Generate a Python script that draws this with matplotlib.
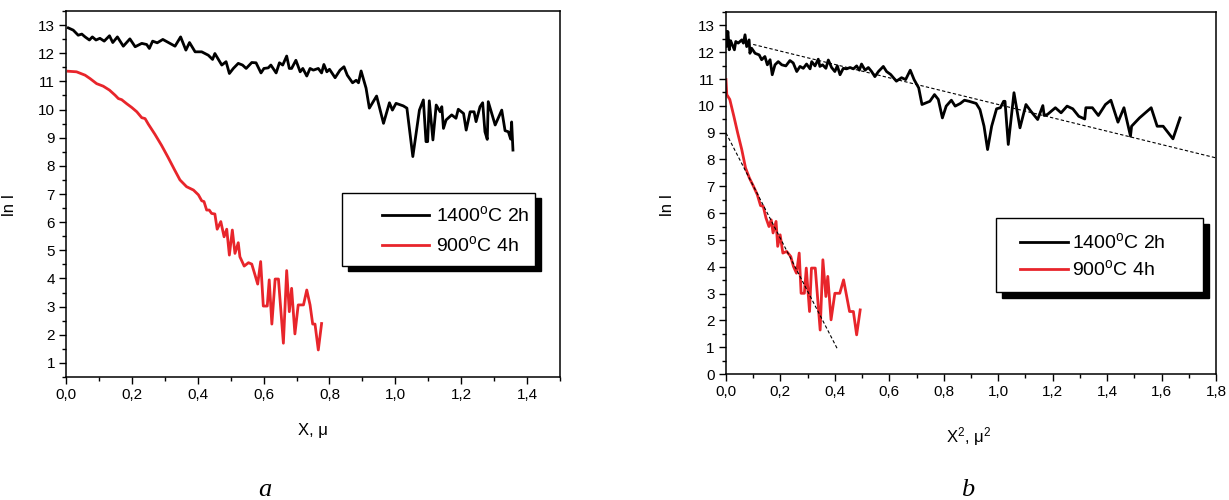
import numpy as np
import matplotlib.pyplot as plt
from matplotlib import font_manager
from matplotlib.lines import Line2D
from matplotlib.patches import Rectangle
from matplotlib.ticker import MultipleLocator, FuncFormatter


# depth profiles, ln I vs X (panel a)
xa_1400 = [0.007, 0.022, 0.037, 0.048, 0.058, 0.071, 0.080, 0.091, 0.103, 0.116,
           0.132, 0.142, 0.156, 0.174, 0.194, 0.210, 0.230, 0.245, 0.253, 0.263,
           0.277, 0.294, 0.311, 0.331, 0.348, 0.364, 0.375, 0.392, 0.412, 0.432,
           0.445, 0.452, 0.473, 0.486, 0.496, 0.508, 0.523, 0.536, 0.547, 0.564,
           0.577, 0.592, 0.601, 0.614, 0.622, 0.638, 0.648, 0.658, 0.670, 0.678,
           0.685, 0.698, 0.711, 0.719, 0.731, 0.741, 0.751, 0.766, 0.776, 0.783,
           0.792, 0.800, 0.817, 0.832, 0.844, 0.854, 0.870, 0.881, 0.888, 0.896,
           0.911, 0.921, 0.943, 0.964, 0.982, 0.991, 1.002, 1.024, 1.035, 1.053,
           1.073, 1.085, 1.093, 1.098, 1.103, 1.114, 1.124, 1.136, 1.141, 1.146,
           1.154, 1.171, 1.184, 1.191, 1.207, 1.215, 1.227, 1.239, 1.245, 1.257,
           1.265, 1.272, 1.279, 1.282, 1.303, 1.323, 1.333, 1.343, 1.350, 1.353,
           1.357]
ya_1400 = [12.90, 12.82, 12.64, 12.68, 12.58, 12.47, 12.58, 12.47, 12.53, 12.43,
           12.62, 12.38, 12.58, 12.25, 12.51, 12.23, 12.35, 12.31, 12.17, 12.43,
           12.37, 12.49, 12.38, 12.25, 12.58, 12.11, 12.38, 12.05, 12.05, 11.93,
           11.78, 11.99, 11.58, 11.70, 11.28, 11.46, 11.64, 11.58, 11.46, 11.67,
           11.66, 11.30, 11.46, 11.48, 11.58, 11.30, 11.66, 11.58, 11.90, 11.46,
           11.46, 11.75, 11.34, 11.46, 11.19, 11.46, 11.40, 11.46, 11.30, 11.60,
           11.34, 11.43, 11.13, 11.40, 11.52, 11.22, 10.95, 11.04, 10.95, 11.37,
           10.76, 10.05, 10.48, 9.51, 10.24, 9.98, 10.22, 10.13, 10.05, 8.33,
           9.98, 10.34, 8.86, 8.86, 10.31, 8.92, 10.16, 9.92, 10.10, 9.33,
           9.63, 9.81, 9.69, 10.01, 9.86, 9.27, 9.92, 9.92, 9.57, 10.10,
           10.24, 9.21, 8.94, 10.28, 9.45, 9.98, 9.25, 9.21, 8.95, 9.56,
           8.56]

xa_900 = [0.007, 0.032, 0.058, 0.073, 0.093, 0.113, 0.132, 0.149, 0.159, 0.169,
          0.184, 0.200, 0.215, 0.230, 0.240, 0.250, 0.270, 0.290, 0.310, 0.330,
          0.346, 0.366, 0.387, 0.402, 0.412, 0.419, 0.427, 0.435, 0.442, 0.452,
          0.459, 0.470, 0.480, 0.488, 0.496, 0.505, 0.513, 0.523, 0.528, 0.541,
          0.554, 0.564, 0.574, 0.582, 0.591, 0.599, 0.611, 0.617, 0.625, 0.635,
          0.645, 0.660, 0.670, 0.678, 0.685, 0.695, 0.705, 0.721, 0.731, 0.741,
          0.749, 0.756, 0.766, 0.776]
ya_900 = [11.36, 11.34, 11.22, 11.10, 10.92, 10.83, 10.69, 10.51, 10.39, 10.35,
          10.21, 10.07, 9.92, 9.71, 9.68, 9.48, 9.12, 8.73, 8.30, 7.85,
          7.50, 7.26, 7.14, 6.97, 6.76, 6.73, 6.43, 6.43, 6.31, 6.29,
          5.75, 6.02, 5.48, 5.75, 4.83, 5.72, 4.89, 5.27, 4.77, 4.44,
          4.56, 4.51, 4.12, 3.80, 4.60, 3.02, 3.02, 3.95, 2.38, 3.98,
          3.98, 1.70, 4.28, 2.82, 3.65, 2.03, 3.06, 3.06, 3.59, 3.06,
          2.38, 2.38, 1.46, 2.40]

# ln I vs X^2 (panel b)
xb_1400 = [0.000, 0.002, 0.007, 0.012, 0.017, 0.023, 0.031, 0.036, 0.045, 0.058,
           0.064, 0.070, 0.076, 0.085, 0.088, 0.094, 0.107, 0.122, 0.131, 0.143,
           0.152, 0.162, 0.170, 0.180, 0.192, 0.205, 0.220, 0.235, 0.247, 0.260,
           0.272, 0.284, 0.296, 0.309, 0.315, 0.327, 0.339, 0.345, 0.355, 0.367,
           0.376, 0.388, 0.400, 0.409, 0.419, 0.431, 0.443, 0.456, 0.468, 0.480,
           0.490, 0.498, 0.511, 0.523, 0.535, 0.547, 0.560, 0.578, 0.590, 0.605,
           0.626, 0.645, 0.660, 0.677, 0.691, 0.708, 0.720, 0.749, 0.766, 0.780,
           0.795, 0.809, 0.828, 0.842, 0.861, 0.876, 0.893, 0.919, 0.933, 0.948,
           0.961, 0.976, 0.994, 1.008, 1.020, 1.025, 1.037, 1.058, 1.080, 1.102,
           1.120, 1.145, 1.164, 1.169, 1.181, 1.210, 1.231, 1.253, 1.274, 1.296,
           1.318, 1.322, 1.346, 1.368, 1.394, 1.414, 1.440, 1.462, 1.486, 1.490,
           1.519, 1.562, 1.584, 1.606, 1.642, 1.668]
yb_1400 = [12.77, 12.21, 12.77, 12.09, 12.43, 12.28, 12.09, 12.40, 12.34, 12.46,
           12.34, 12.65, 12.21, 12.46, 11.96, 12.15, 11.96, 11.90, 11.72, 11.84,
           11.53, 11.72, 11.16, 11.53, 11.65, 11.53, 11.49, 11.69, 11.60, 11.28,
           11.47, 11.40, 11.56, 11.38, 11.65, 11.49, 11.74, 11.47, 11.53, 11.40,
           11.71, 11.43, 11.28, 11.49, 11.16, 11.40, 11.38, 11.43, 11.38, 11.49,
           11.33, 11.56, 11.33, 11.43, 11.28, 11.09, 11.28, 11.47, 11.28, 11.17,
           10.92, 11.05, 10.98, 11.33, 10.98, 10.67, 10.05, 10.17, 10.42, 10.24,
           9.55, 9.99, 10.21, 9.99, 10.09, 10.21, 10.17, 10.09, 9.86, 9.24,
           8.37, 9.24, 9.89, 9.93, 10.17, 10.17, 8.56, 10.49, 9.18, 10.05,
           9.80, 9.49, 10.01, 9.64, 9.68, 9.93, 9.74, 9.99, 9.89, 9.61,
           9.51, 9.93, 9.93, 9.64, 10.05, 10.21, 9.39, 9.93, 8.87, 9.24,
           9.55, 9.93, 9.24, 9.24, 8.77, 9.55]

xb_900 = [0.000, 0.003, 0.014, 0.029, 0.043, 0.058, 0.072, 0.086, 0.101, 0.115,
          0.127, 0.137, 0.147, 0.158, 0.166, 0.173, 0.184, 0.190, 0.199, 0.209,
          0.223, 0.238, 0.248, 0.259, 0.269, 0.276, 0.288, 0.295, 0.307, 0.314,
          0.328, 0.346, 0.356, 0.367, 0.374, 0.386, 0.400, 0.418, 0.432, 0.454,
          0.468, 0.480, 0.493]
yb_900 = [10.98, 10.42, 10.24, 9.61, 8.99, 8.37, 7.68, 7.31, 7.00, 6.69,
          6.28, 6.25, 5.82, 5.50, 5.75, 5.26, 5.69, 4.76, 5.19, 4.51,
          4.57, 4.38, 4.01, 3.76, 4.51, 3.01, 3.01, 3.95, 2.33, 3.95,
          3.95, 1.64, 4.26, 2.89, 3.64, 2.02, 3.01, 3.01, 3.51, 2.33,
          2.33, 1.46, 2.39]

# linear fits drawn over panel b
fit_1400_x = [0.10, 1.80]
fit_1400_y = [12.29, 8.06]
fit_900_x = [0.00, 0.408]
fit_900_y = [8.99, 0.96]

labels = ['1400$^{\\rm o}$C 2h', '900$^{\\rm o}$C 4h']
BLACK = '#000000'
RED = '#e8252b'

narrow = 'Liberation Sans Narrow'
have_narrow = any(f.name == narrow for f in font_manager.fontManager.ttflist)
key_font = narrow if have_narrow else 'Liberation Sans'

plt.rcParams['font.family'] = ['Liberation Sans', 'DejaVu Sans']
plt.rcParams['mathtext.fontset'] = 'custom'
plt.rcParams['mathtext.rm'] = 'Liberation Sans'
plt.rcParams['mathtext.it'] = 'Liberation Sans'


def comma(v, pos):
    return ('%.1f' % v).replace('.', ',')


def style_axes(ax, xmax, ymin, ymax, ylo):
    ax.set_xlim(0, xmax)
    ax.set_ylim(ymin, ymax)
    ax.xaxis.set_major_locator(MultipleLocator(0.2))
    ax.xaxis.set_minor_locator(MultipleLocator(0.1))
    ax.xaxis.set_major_formatter(FuncFormatter(comma))
    ax.set_yticks(np.arange(ylo, 14, 1))
    ax.yaxis.set_minor_locator(MultipleLocator(0.5))
    ax.tick_params(which='major', direction='out', length=5, width=1,
                   labelsize=11, pad=3, top=False, right=False)
    ax.tick_params(which='minor', direction='out', length=3, width=1,
                   top=False, right=False)
    for s in ax.spines.values():
        s.set_linewidth(1.1)


def add_key(ax, box, shift, line_x, rows_y, text_x, size):
    x0, y0, x1, y1 = box
    ax.add_patch(Rectangle((x0 + shift[0], y0 - shift[1]), x1 - x0, y1 - y0,
                           transform=ax.transAxes, facecolor='black',
                           edgecolor='black', zorder=6, clip_on=False))
    ax.add_patch(Rectangle((x0, y0), x1 - x0, y1 - y0, transform=ax.transAxes,
                           facecolor='white', edgecolor='black', lw=1,
                           zorder=7, clip_on=False))
    for yy, col, lab in zip(rows_y, [BLACK, RED], labels):
        ax.add_line(Line2D(line_x, [yy, yy], transform=ax.transAxes,
                           color=col, lw=2, zorder=8))
        ax.text(text_x, yy, lab, transform=ax.transAxes, ha='left',
                va='center', fontsize=size, family=[key_font, 'DejaVu Sans'],
                zorder=8)


fig = plt.figure(figsize=(12.29, 5.0), dpi=100)

ax1 = fig.add_axes([0.0537, 0.246, 0.402, 0.732])
ax1.plot(xa_1400, ya_1400, color=BLACK, lw=2)
ax1.plot(xa_900, ya_900, color=RED, lw=2)
style_axes(ax1, 1.5, 0.5, 13.5, 1)
ax1.set_xlabel('X, μ', fontsize=12)
ax1.set_ylabel('ln I', fontsize=12)
ax1.xaxis.set_label_coords(0.5, -0.126)
ax1.yaxis.set_label_coords(-0.099, 0.47)
add_key(ax1, (0.559, 0.303, 0.949, 0.503), (0.012, 0.014),
        [0.640, 0.735], [0.443, 0.361], 0.749, 14)

ax2 = fig.add_axes([0.5907, 0.252, 0.3987, 0.724])
ax2.plot(xb_1400, yb_1400, color=BLACK, lw=2)
ax2.plot(xb_900, yb_900, color=RED, lw=2)
ax2.plot(fit_1400_x, fit_1400_y, color='black', lw=0.8, ls=(0, (3, 2)))
ax2.plot(fit_900_x, fit_900_y, color='black', lw=0.8, ls=(0, (3, 2)))
style_axes(ax2, 1.8, 0, 13.5, 0)
ax2.set_xlabel('X$^{\\rm 2}$, μ$^{\\rm 2}$', fontsize=12)
ax2.set_ylabel('ln I', fontsize=12)
ax2.xaxis.set_label_coords(0.496, -0.141)
ax2.yaxis.set_label_coords(-0.104, 0.467)
add_key(ax2, (0.551, 0.2265, 0.973, 0.431), (0.012, 0.017),
        [0.600, 0.698], [0.365, 0.290], 0.706, 14)

fig.text(0.2156, 0.02, 'a', fontsize=19, style='italic',
         family='Liberation Serif', ha='center', va='center')
fig.text(0.787, 0.02, 'b', fontsize=19, style='italic',
         family='Liberation Serif', ha='center', va='center')

fig.savefig('out.png', dpi=100)
